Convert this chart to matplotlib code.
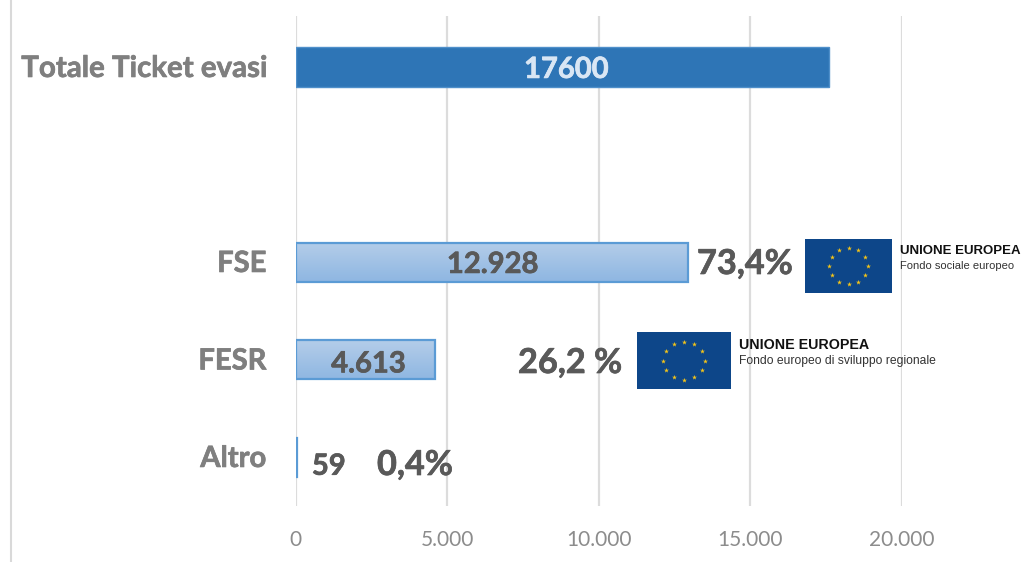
import numpy as np
import matplotlib
matplotlib.use("Agg")
import matplotlib.pyplot as plt
import matplotlib.patheffects as pe

categories = ["Altro", "FESR", "FSE", "", "Totale Ticket evasi"]
values = [59, 4613, 12928, 0, 17600]
value_labels = ["59", "4.613", "12.928", "", "17600"]
shares = ["0,4%", "26,2 %", "73,4%"]
ticks = [0, 5000, 10000, 15000, 20000]
tick_labels = ["0", "5.000", "10.000", "15.000", "20.000"]
W, H = 1023, 562

plt.rcParams["font.family"] = ["Lato", "DejaVu Sans"]
fig = plt.figure(figsize=(W/100, H/100), dpi=100)
fig.patch.set_facecolor("white")

def P(x, y):
    return x/W, 1-y/H

# axes: x px 295.5..902 -> 0..20000 ; y centres 457 ... 67
left, right = 295.5, 902
top, bottom = 16, 506
xmax = 20000
step = 97.5
ylim = ((457-bottom)/step, (457-top)/step)
ax = fig.add_axes([left/W, 1-bottom/H, (right-left)/W, (bottom-top)/H])
ax.patch.set_alpha(0)
for s in ax.spines.values():
    s.set_visible(False)
ax.set_xticks(ticks, tick_labels, fontsize=15, color="#8c8c8c")
ax.tick_params(axis="x", length=0, pad=17)
ax.set_yticks([])
ax.grid(axis="x", color="#dcdcdc", lw=1.6, zorder=0)
ax.set_axisbelow(True)

grad = np.linspace(0, 1, 64).reshape(-1, 1, 1)
c1 = np.array([0xb4, 0xcd, 0xe9])/255
c2 = np.array([0x8f, 0xb7, 0xe2])/255
img = c1*(1-grad) + c2*grad
h = 39/step
for i, (c, v) in enumerate(zip(categories, values)):
    if not c:
        continue
    if i == 4:
        ax.barh(i, v, height=h, color="#2e75b6", edgecolor="#4f8fca", lw=1, zorder=3)
    else:
        ax.imshow(img, extent=[0, v, i-h/2, i+h/2], aspect="auto", zorder=3, interpolation="bilinear")
        ax.barh(i, v, height=h, facecolor="none", edgecolor="#5b9bd5", lw=1.6, zorder=4)
ax.set_xlim(0, xmax)
ax.set_ylim(*ylim)

def heavy(t, color):
    t.set_path_effects([pe.withStroke(linewidth=0.5, foreground=color)])
    return t

# category labels
for i, c in enumerate(categories):
    if c:
        heavy(ax.text(-960, i-0.02, c, ha="right", va="center", fontsize=21.2 if i == 4 else 21,
                      fontweight="bold", color="#7f7f7f", zorder=5), "#7f7f7f")

# value labels
heavy(ax.text(values[4]/2+130, 4-0.03, value_labels[4], ha="center", va="center", fontsize=21, fontweight="bold", color="#d9e6f4", zorder=5), "#d9e6f4")
heavy(ax.text(values[2]/2+40, 2-0.03, value_labels[2], ha="center", va="center", fontsize=21, fontweight="bold", color="#595959", zorder=5), "#595959")
heavy(ax.text(values[1]/2+100, 1-0.05, value_labels[1], ha="center", va="center", fontsize=21, fontweight="bold", color="#595959", zorder=5), "#595959")
heavy(ax.text(540, -0.10, value_labels[0], ha="left", va="center", fontsize=21, fontweight="bold", color="#595959", zorder=5), "#595959")

# share labels
kw = dict(fontsize=24.7, fontweight="bold", color="#595959", va="center", zorder=6)
x, y = P(697, 264); heavy(fig.text(x, y, shares[2], ha="left", **kw), "#595959")
x, y = P(518, 363); heavy(fig.text(x, y, shares[1], ha="left", **kw), "#595959")
x, y = P(377, 465); heavy(fig.text(x, y, shares[0], ha="left", **kw), "#595959")

# outer vertical rule
fig.add_artist(plt.Line2D([11/W, 11/W], [0, 1], color="#d9d9d9", lw=1.5))

def flag(x0, y0, x1, y1):
    a = fig.add_axes([x0/W, 1-y1/H, (x1-x0)/W, (y1-y0)/H], zorder=7)
    a.set_xlim(-1.5, 1.5)
    a.set_ylim(-1, 1)
    a.set_facecolor("#0d4689")
    a.set_xticks([]); a.set_yticks([])
    for s in a.spines.values():
        s.set_visible(False)
    t = np.arange(12)*np.pi/6
    a.scatter(2/3*np.cos(t), 2/3*np.sin(t), marker="*", s=14, color="#f5c518", lw=0)

flag(805, 239, 892, 293)
flag(637, 332, 731, 389)

def caption(x, y1, y2, sub, s1, s2):
    fx, fy = P(x, y1)
    fig.text(fx, fy, "UNIONE EUROPEA", family="Liberation Sans", fontweight="bold", fontsize=s1, color="#111111", va="center", zorder=8)
    fx, fy = P(x, y2)
    fig.text(fx, fy, sub, family="Liberation Sans", fontsize=s2, color="#333333", va="center", zorder=8)

caption(900, 251, 266, "Fondo sociale europeo", 9.5, 8.05)
caption(739, 345, 361, "Fondo europeo di sviluppo regionale", 10.3, 8.75)

fig.savefig("out.png", dpi=100)
